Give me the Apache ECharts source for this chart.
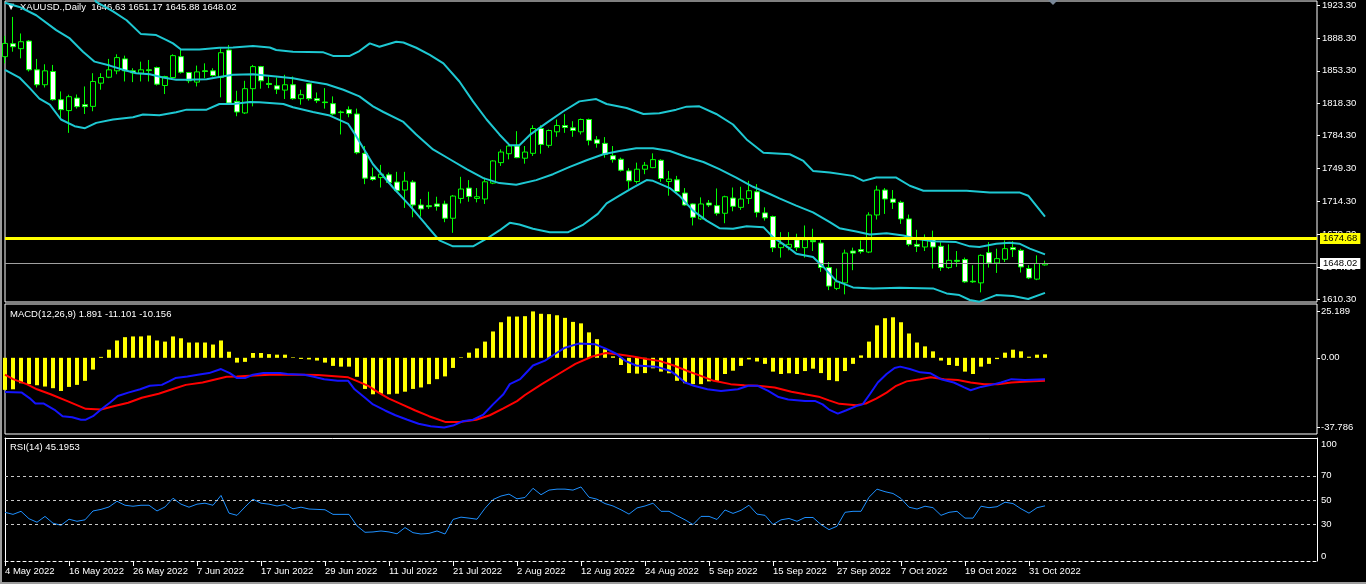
<!DOCTYPE html>
<html>
<head>
<meta charset="utf-8">
<script src="https://cdn.jsdelivr.net/npm/echarts@6/dist/echarts.min.js"></script>
<style>
html,body{margin:0;padding:0;background:#000;}
#c{width:1366px;height:584px;}
</style>
</head>
<body>
<div id="c"></div>
<script>
// ---------- DATA ----------
const symbolTitle = 'XAUUSD.,Daily  1646.63 1651.17 1645.88 1648.02';
const macdTitle = 'MACD(12,26,9) 1.891 -11.101 -10.156';
const rsiTitle = 'RSI(14) 45.1953';
const dateLabels = ['4 May 2022','16 May 2022','26 May 2022','7 Jun 2022','17 Jun 2022','29 Jun 2022','11 Jul 2022','21 Jul 2022','2 Aug 2022','12 Aug 2022','24 Aug 2022','5 Sep 2022','15 Sep 2022','27 Sep 2022','7 Oct 2022','19 Oct 2022','31 Oct 2022'];
const labelStep = 8;
const slotCount = 165; // bars + empty chart shift space
const priceTicks = [1923.30,1888.30,1853.30,1818.30,1784.30,1749.30,1714.30,1679.30,1644.30,1610.30];
const macdTicks = [25.189, 0, -37.786];
const rsiTicks = [0, 30, 50, 70, 100];
const rsiLevels = [30, 50, 70];
const levelPrice = 1674.68;
const bidPrice = 1648.02;

// daily candles: [open, high, low, close]
const candles = [
[1868.3,1890.5,1861.2,1882.4],[1882.1,1910.6,1873.6,1878.9],[1876.8,1893.0,1866.5,1884.2],[1884.9,1886.0,1852.5,1854.3],[1854.3,1865.9,1835.5,1838.4],
[1838.4,1860.2,1835.5,1853.2],[1852.5,1859.5,1821.5,1822.5],[1822.5,1831.3,1801.4,1811.9],[1810.9,1827.8,1787.2,1825.7],[1824.2,1828.0,1813.0,1815.1],
[1817.2,1836.6,1807.3,1815.1],[1815.4,1850.7,1810.2,1841.9],[1840.1,1850.7,1833.1,1846.1],[1846.4,1865.9,1845.4,1854.3],[1853.2,1870.8,1849.6,1867.3],
[1865.9,1869.4,1841.9,1853.2],[1853.2,1856.0,1841.2,1851.1],[1850.7,1863.0,1841.9,1854.3],[1854.3,1864.8,1841.9,1853.5],[1856.7,1857.7,1837.6,1839.0],
[1837.6,1848.0,1828.5,1847.2],[1846.1,1870.8,1845.4,1869.4],[1868.3,1876.5,1850.3,1851.7],[1851.4,1852.0,1840.1,1842.6],[1841.2,1858.8,1836.6,1852.1],
[1853.2,1861.2,1845.4,1852.5],[1853.2,1856.0,1847.2,1848.2],[1846.1,1877.1,1825.0,1872.5],[1875.4,1880.7,1817.9,1818.9],[1820.7,1832.0,1804.9,1809.4],
[1808.4,1842.6,1807.3,1834.2],[1834.2,1859.5,1815.4,1857.7],[1857.7,1858.5,1834.2,1842.6],[1839.8,1847.2,1834.8,1838.7],[1837.3,1846.1,1828.5,1833.7],
[1832.7,1849.0,1823.2,1838.4],[1838.4,1847.2,1822.5,1823.6],[1823.6,1833.1,1817.2,1827.8],[1839.4,1840.1,1821.5,1823.6],[1823.6,1830.2,1818.9,1821.5],
[1820.0,1834.8,1813.0,1819.4],[1818.3,1826.0,1805.9,1807.3],[1809.4,1810.9,1785.5,1808.8],[1811.9,1815.4,1803.8,1807.7],[1807.3,1813.0,1764.4,1766.1],
[1765.4,1773.2,1732.6,1739.0],[1740.4,1750.2,1736.1,1737.5],[1739.6,1753.1,1729.0,1743.2],[1742.5,1744.9,1733.3,1734.3],[1734.8,1745.7,1723.8,1725.6],
[1726.3,1745.7,1707.3,1735.8],[1734.8,1736.9,1697.3,1710.4],[1710.4,1716.8,1698.1,1706.2],[1709.7,1724.5,1706.2,1708.6],[1711.5,1719.2,1704.4,1709.0],
[1711.5,1715.0,1692.1,1696.3],[1696.3,1721.0,1680.8,1719.9],[1717.4,1740.4,1712.1,1727.4],[1728.4,1736.9,1713.9,1719.5],[1717.4,1728.4,1713.2,1719.2],
[1716.8,1739.6,1711.5,1735.1],[1733.7,1758.0,1732.6,1757.3],[1755.5,1769.6,1752.0,1766.8],[1765.0,1776.6,1759.0,1773.2],[1773.2,1789.0,1760.2,1760.8],
[1760.2,1773.2,1754.4,1766.8],[1765.4,1795.3,1762.6,1791.8],[1791.8,1795.3,1765.0,1774.9],[1773.9,1790.8,1771.4,1789.7],[1788.3,1801.4,1783.0,1795.0],
[1795.0,1807.1,1787.2,1792.9],[1792.5,1799.6,1783.0,1789.7],[1788.3,1802.4,1785.5,1801.4],[1801.4,1802.4,1773.9,1779.2],[1779.8,1783.7,1771.4,1776.0],
[1776.0,1782.7,1760.8,1764.4],[1762.9,1773.2,1755.5,1758.7],[1759.1,1760.8,1746.0,1747.4],[1746.7,1749.6,1727.4,1736.1],[1735.4,1755.5,1733.3,1748.5],
[1748.5,1756.2,1743.2,1752.7],[1750.2,1765.4,1749.6,1758.7],[1758.0,1759.1,1735.1,1738.6],[1735.4,1746.7,1720.3,1737.9],[1737.2,1741.4,1722.1,1724.8],
[1723.1,1728.4,1709.7,1710.4],[1711.5,1712.1,1688.6,1697.3],[1695.6,1718.5,1694.5,1711.5],[1712.5,1715.7,1708.2,1710.4],[1709.7,1728.0,1699.1,1701.6],
[1701.6,1720.3,1691.0,1719.2],[1717.8,1729.0,1703.7,1709.0],[1707.9,1729.8,1705.2,1716.8],[1717.4,1736.1,1711.5,1725.6],[1724.5,1732.6,1697.3,1702.6],
[1702.0,1707.9,1693.8,1696.7],[1698.1,1699.1,1660.3,1665.0],[1665.0,1681.5,1654.4,1669.2],[1665.3,1681.5,1662.1,1668.5],[1673.4,1679.8,1661.4,1665.0],
[1665.0,1688.6,1654.4,1673.4],[1672.7,1685.1,1661.4,1671.3],[1669.9,1676.2,1639.2,1643.8],[1643.8,1649.7,1619.8,1624.1],[1621.6,1642.8,1619.8,1628.6],
[1627.5,1662.9,1615.3,1659.2],[1661.4,1665.0,1641.0,1659.2],[1662.9,1672.7,1658.6,1660.8],[1660.3,1702.6,1659.2,1699.8],[1699.8,1730.9,1694.9,1726.3],
[1726.3,1728.4,1700.9,1716.8],[1716.8,1726.3,1706.2,1713.2],[1713.2,1715.0,1690.3,1695.6],[1695.6,1700.2,1666.4,1668.5],[1668.5,1684.0,1660.3,1666.4],
[1665.7,1679.1,1661.4,1673.4],[1673.4,1683.1,1642.8,1665.7],[1666.4,1670.9,1640.3,1643.8],[1643.8,1668.5,1642.5,1651.5],[1651.5,1661.4,1644.5,1650.5],
[1652.3,1654.4,1627.5,1628.6],[1629.3,1646.3,1627.5,1628.6],[1627.5,1657.9,1617.4,1656.8],[1659.7,1670.9,1643.8,1648.7],[1648.7,1663.9,1638.1,1653.3],
[1652.6,1672.7,1649.7,1663.9],[1665.0,1671.9,1655.0,1662.9],[1662.1,1663.9,1638.5,1644.5],[1642.8,1646.3,1631.5,1632.8],[1631.5,1656.8,1630.4,1648.1],
[1646.63,1651.17,1645.88,1648.02]
];

// Bollinger bands: [bar index, price]
const bbUpper = [[0,1997],[2,1996],[4,1997],[6,1986],[8,1979],[10,1952],[11.4,1926.5],[13.5,1916.6],[15.2,1907.1],[17,1892.3],[18.9,1891.3],[20.2,1886.0],[21,1882.4],[22,1876.0],[24.3,1876.0],[26.8,1877.8],[28.5,1878.1],[31,1879.6],[33.1,1878.1],[33.9,1875.4],[36,1873.6],[39.8,1872.9],[41,1869.1],[43.1,1869.1],[44.3,1874.3],[45.6,1882.4],[46.8,1878.9],[48.9,1884.2],[49.8,1883.4],[51.4,1877.8],[53.1,1870.1],[54.8,1861.2],[56.8,1841.9],[58.5,1820.7],[60.2,1801.4],[61.8,1785.5],[63.1,1773.9],[64.3,1774.0],[65.6,1785.0],[67.7,1797.8],[69.8,1810.2],[71.8,1820.7],[73.9,1823.2],[75.2,1817.9],[77.7,1813.6],[79.8,1807.3],[81.8,1808.0],[83.9,1811.9],[85.2,1815.1],[86.8,1815.4],[88.9,1807.3],[91,1796.1],[92.7,1780.2],[94.8,1766.1],[98.1,1764.4],[99.8,1757.3],[101,1746.7],[103.1,1744.9],[106,1741.4],[107.3,1736.1],[108.9,1739.6],[111.4,1739.6],[113.1,1730.9],[114.8,1725.6],[120.2,1725.6],[123.1,1723.8],[126.8,1723.8],[127.9,1720.3],[128.9,1709.7],[130,1698.1]];
const bbMiddle = [[0,1925.7],[1.8,1921.2],[3.9,1912.4],[6.4,1896.5],[8.1,1887.7],[9.75,1873.6],[11.2,1863.0],[13.1,1858.8],[14.75,1854.3],[16.4,1850.7],[18.1,1849.6],[19.75,1846.1],[21.4,1843.7],[22.7,1843.7],[25.2,1844.3],[26.4,1846.1],[28.5,1849.0],[31,1849.6],[33.9,1847.2],[36,1845.4],[38.1,1841.9],[40.2,1839.0],[42.3,1833.1],[44.3,1826.0],[46,1815.4],[47.3,1809.4],[49.8,1798.8],[51.4,1785.5],[53.5,1769.6],[55.6,1759.1],[57.7,1748.5],[59.8,1739.0],[61.8,1733.7],[63.9,1731.9],[66.4,1736.9],[68.5,1743.2],[70.6,1751.0],[72.7,1758.0],[74.8,1764.4],[76.8,1767.9],[78.9,1770.7],[81,1770.7],[83.1,1767.9],[85.2,1761.5],[87.3,1756.2],[89.3,1748.5],[91.4,1739.6],[93.5,1729.8],[95.6,1722.1],[96.8,1717.4],[98.9,1709.7],[101,1702.6],[103.1,1692.1],[104.3,1685.7],[106.4,1682.2],[108.1,1679.1],[110.2,1680.4],[112.3,1677.9],[113.9,1674.4],[116,1671.9],[118.9,1670.9],[120.6,1666.4],[121.8,1665.7],[123.9,1669.2],[125.6,1670.3],[126.8,1669.2],[128.1,1663.9],[130,1657.9]];
const bbLower = [[0,1854.3],[1.8,1846.1],[3.1,1834.8],[4.3,1823.6],[5.6,1817.2],[7,1801.4],[8.7,1794.3],[10,1792.2],[11.4,1797.8],[13.5,1801.4],[16,1803.8],[17.25,1806.7],[19.3,1805.9],[21.4,1809.1],[22.7,1811.9],[25.2,1811.9],[26.8,1817.9],[28.5,1817.9],[30.6,1820.0],[31.8,1819.7],[34.8,1817.9],[36,1814.4],[38.5,1809.4],[40.6,1805.6],[42.9,1796.7],[43.9,1783.7],[46,1753.8],[48.5,1729.0],[50.6,1709.7],[52.7,1688.6],[54.3,1672.7],[56,1666.4],[58.5,1666.4],[60.2,1674.5],[61.8,1683.3],[63.1,1691.4],[64.3,1689.6],[66,1685.1],[68.1,1681.5],[70.4,1681.5],[72.3,1689.6],[74.1,1701.0],[75.2,1712.1],[76.8,1720.3],[78.5,1729.0],[80.2,1736.9],[81,1736.1],[83.1,1728.4],[84.3,1720.3],[86,1704.4],[87.7,1693.8],[89.3,1685.7],[91,1685.1],[92.7,1687.8],[94.8,1686.8],[96,1676.2],[98.1,1663.9],[98.9,1658.6],[101,1655.1],[102.3,1644.5],[103.9,1629.7],[106,1622.7],[108.5,1621.6],[111.8,1622.3],[116,1621.6],[117.7,1616.3],[119.3,1614.5],[120.6,1609.3],[121.8,1607.5],[123.9,1614.5],[126,1613.5],[127.9,1610.3],[130,1616.9]];

// MACD histogram per bar
const macdHist = [-17.4,-17.1,-13.8,-14.3,-14.9,-15.6,-16.5,-18.0,-15.8,-14.7,
-12.5,-6.4,0.5,4.4,9.4,11.2,11.6,11.6,12.1,9.4,
8.8,11.6,10.6,8.3,8.3,8.3,7.2,9.4,3.3,-2.6,
-2.2,2.6,2.6,2.0,1.7,1.7,0.3,-0.6,-0.9,-1.5,
-2.6,-4.4,-4.8,-4.8,-10.3,-16.9,-19.8,-19.5,-19.8,-19.5,
-18.4,-16.9,-16.1,-14.3,-11.6,-10.1,-5.5,0.3,2.8,5.1,
8.8,14.3,19.3,22.4,22.4,22.6,25.19,23.9,23.7,23.1,
21.7,19.5,18.7,13.8,10.1,4.6,0.8,-3.9,-8.3,-8.6,
-8.3,-5.7,-7.5,-8.4,-12.5,-13.8,-14.3,-14.3,-12.8,-12.5,
-8.8,-7.0,-4.4,-0.9,-2.0,-3.3,-7.5,-8.8,-8.4,-8.8,
-7.2,-5.9,-8.3,-12.1,-12.7,-7.2,-3.3,1.3,8.8,17.6,
21.5,22.0,19.3,13.2,8.3,6.2,3.5,-1.5,-3.9,-4.4,
-7.5,-8.8,-4.8,-3.3,-0.7,2.8,4.4,3.5,0.6,1.7,
1.891];
// MACD lines: [bar index, value]
const macdMain = [[0,-18.5],[2.1,-18.9],[3.1,-22.0],[3.8,-24.8],[4.8,-24.8],[6.3,-28.6],[7.2,-31.7],[8.4,-32.3],[9.5,-33.6],[10.1,-33.6],[11,-31.7],[12,-28.1],[13.1,-24.4],[14.1,-20.7],[15.4,-18.9],[16.9,-17.1],[18.1,-15.2],[19.6,-14.7],[20.5,-12.8],[21.3,-11.0],[22.8,-10.1],[24.1,-9.2],[25.5,-8.3],[27,-6.1],[28.1,-8.3],[29,-11.0],[30,-11.0],[31,-9.2],[32.3,-8.3],[34.4,-8.3],[35.3,-8.8],[37.4,-9.2],[38.6,-10.3],[39.9,-11.6],[41.6,-12.5],[42.9,-12.5],[43.7,-17.1],[45,-21.7],[46,-25.3],[47.5,-28.6],[48.8,-31.2],[50.3,-33.6],[51.7,-35.8],[53.2,-37.2],[54.9,-37.8],[56,-36.8],[57.2,-34.5],[58.5,-33.6],[59.8,-30.8],[61,-25.3],[62.3,-19.8],[63.1,-14.3],[64.4,-11.6],[65,-8.8],[66,-4.2],[67.5,-1.5],[68.8,2.2],[70,5.5],[71.7,7.7],[73.8,7.3],[75.1,5.0],[76.4,2.2],[77.6,-1.8],[78.9,-4.2],[81.4,-4.8],[83.1,-7.0],[84,-9.7],[85,-13.4],[86.1,-15.2],[87.8,-17.1],[89.5,-18.0],[91.6,-17.1],[92.9,-15.2],[94.1,-15.2],[95.4,-18.0],[96.7,-21.3],[97.9,-22.6],[100,-23.5],[101.3,-23.5],[102.2,-25.3],[103,-28.1],[104.1,-30.3],[105.1,-28.6],[106.4,-26.2],[107.2,-25.3],[108.1,-19.8],[109.1,-13.4],[110.2,-8.8],[111.2,-5.5],[111.9,-4.8],[113.1,-6.1],[114.4,-7.9],[115.7,-8.4],[117,-11.6],[118.6,-13.4],[119.9,-16.1],[120.7,-17.6],[122,-15.8],[123.3,-14.7],[124.5,-13.4],[125.8,-11.6],[127.5,-12.1],[130,-11.6]];
const macdSignal = [[0,-9.2],[1,-11.6],[2.7,-14.3],[4,-17.1],[5.7,-19.8],[7.8,-23.5],[10.1,-27.7],[12,-28.1],[13.7,-26.2],[15.4,-24.4],[17.1,-21.7],[19.2,-19.5],[20.9,-17.1],[22.6,-14.7],[24.7,-13.4],[26.4,-11.6],[27.7,-10.3],[29,-10.1],[30.6,-9.7],[33.1,-9.2],[35.3,-9.2],[37.4,-9.2],[39.1,-9.4],[40.8,-9.9],[42.9,-10.6],[44.1,-12.8],[45.4,-15.2],[46.7,-18.9],[48,-22.2],[49.6,-25.3],[51.3,-28.6],[53,-31.7],[55.1,-34.9],[56.8,-34.9],[58.9,-33.6],[60.6,-31.2],[62.3,-27.5],[64,-23.5],[65,-20.2],[67.1,-14.3],[69.2,-8.8],[71.3,-3.3],[73.4,0.7],[75.1,2.6],[76.8,1.8],[78.5,0.7],[80.2,-0.6],[81.9,-1.8],[83.6,-4.2],[85.2,-7.0],[86.9,-9.7],[88.6,-12.5],[90.7,-14.3],[92.4,-14.9],[94.1,-15.2],[96.2,-16.1],[98.3,-18.4],[100,-19.8],[101.7,-21.1],[103,-23.1],[104.3,-25.0],[106.4,-25.7],[107.6,-24.8],[108.9,-22.2],[110.2,-18.9],[111.4,-15.2],[112.7,-12.8],[114.4,-11.6],[115.7,-10.6],[117.4,-11.6],[119.1,-12.1],[120.7,-13.4],[122.4,-14.3],[124.1,-14.3],[125.8,-13.4],[127.9,-12.8],[130,-12.5]];

// RSI(14) per bar
const rsi = [39.9,38.2,40.7,34.6,31.7,36.5,30.9,29.2,34.2,32.5,
33.7,41.0,42.3,44.3,49.0,45.7,44.9,45.7,45.7,41.0,
44.3,51.5,46.6,44.1,46.6,47.4,45.7,53.8,39.2,37.4,
44.3,50.7,47.4,46.6,45.1,46.3,42.8,44.1,42.6,42.3,
42.0,38.2,38.2,38.2,28.7,23.4,23.7,24.5,23.7,22.2,
27.3,23.1,22.0,22.5,24.5,22.0,34.0,35.9,35.1,34.2,
43.2,50.4,53.3,54.9,51.0,52.1,59.7,54.4,58.2,59.0,
59.0,58.2,60.8,52.3,50.7,47.1,45.1,42.0,38.4,43.5,
45.1,47.4,40.7,40.7,37.1,33.7,29.8,36.5,36.5,34.0,
41.8,39.0,41.5,45.7,38.4,37.4,29.8,33.7,34.8,32.5,
35.6,35.6,29.8,25.6,28.4,39.9,40.7,40.7,52.3,59.0,
56.9,55.4,51.3,44.1,42.6,44.9,43.7,37.4,39.9,40.7,
35.1,35.1,44.9,43.7,44.5,48.2,47.1,42.8,39.2,43.7,
45.2];

// ---------- CHART ----------
const FONT = 'Liberation Sans';
const FS = 9.5;
const cats = Array.from({length: slotCount}, (_, i) => String(i));
const lastSlot = slotCount - 1;
const showDate = (i) => i % labelStep === 0 && (i / labelStep) < dateLabels.length;
const bandColor = '#1ec8d2';

const chart = echarts.init(document.getElementById('c'), null, {renderer: 'canvas'});
const hiddenCat = (g) => ({type: 'category', gridIndex: g, data: cats, boundaryGap: false, show: false});
const hiddenVal = (g) => ({type: 'value', gridIndex: g, min: 0, max: lastSlot, show: false, axisLine: {onZero: false}});
const bandSeries = (data) => ({
  type: 'line', xAxisIndex: 1, yAxisIndex: 0, data: data, symbol: 'none', silent: true,
  lineStyle: {color: bandColor, width: 2}, z: 4, animation: false
});
const rightTicks = (vals) => ({show: true, inside: false, customValues: vals, length: 3, lineStyle: {color: '#ffffff', width: 1}});

chart.setOption({
  backgroundColor: '#000000',
  animation: false,
  grid: [
    {left: 5, top: -1, width: 1312, height: 303, show: true, borderColor: '#ffffff', borderWidth: 1, backgroundColor: 'transparent'},
    {left: 5, top: 304, width: 1312, height: 130, show: true, borderColor: '#ffffff', borderWidth: 1, backgroundColor: 'transparent'},
    {left: 5, top: 438, width: 1312, height: 123, show: false}
  ],
  xAxis: [
    hiddenCat(0), hiddenVal(0), hiddenCat(1), hiddenVal(1),
    {type: 'category', gridIndex: 2, data: cats, boundaryGap: false, position: 'bottom',
     axisLine: {show: true, onZero: false, lineStyle: {color: '#ffffff', type: [3, 3], width: 1}},
     axisTick: {show: true, interval: showDate, length: 5, lineStyle: {color: '#ffffff'}},
     axisLabel: {show: true, interval: showDate, formatter: (v, i) => dateLabels[i / labelStep] || '',
       color: '#ffffff', fontSize: FS, fontFamily: FONT, align: 'left', margin: 5},
     splitLine: {show: false}},
    {type: 'category', gridIndex: 2, data: cats, boundaryGap: false, position: 'top',
     axisLine: {show: true, onZero: false, lineStyle: {color: '#ffffff', width: 1}},
     axisTick: {show: false}, axisLabel: {show: false}, splitLine: {show: false}}
  ],
  yAxis: [
    {type: 'value', gridIndex: 0, position: 'right', min: 1607.14, max: 1927.53,
     axisLine: {show: false, onZero: false}, splitLine: {show: false}, minorTick: {show: false},
     axisTick: rightTicks(priceTicks),
     axisLabel: {show: true, customValues: priceTicks, formatter: v => v.toFixed(2), color: '#ffffff', fontSize: FS, fontFamily: FONT, margin: 5}},
    {type: 'value', gridIndex: 1, position: 'right', min: -41.37, max: 29.21,
     axisLine: {show: false, onZero: false}, splitLine: {show: false},
     axisTick: rightTicks(macdTicks),
     axisLabel: {show: true, customValues: macdTicks, formatter: v => (v === 0 ? '0.00' : String(v)), color: '#ffffff', fontSize: FS, fontFamily: FONT, margin: 4}},
    {type: 'value', gridIndex: 2, position: 'right', min: -0.25, max: 101.15,
     axisLine: {show: true, onZero: false, lineStyle: {color: '#ffffff', width: 1}}, splitLine: {show: false},
     axisTick: {show: false},
     axisLabel: {show: true, customValues: rsiTicks, margin: 4,
       formatter: v => (v === 100 ? '{dn|100}' : (v === 0 ? '{up|0}' : String(v))),
       color: '#ffffff', fontSize: FS, fontFamily: FONT,
       rich: {dn: {padding: [9, 0, 0, 0], color: '#ffffff', fontSize: FS, fontFamily: FONT},
              up: {padding: [0, 0, 9, 0], color: '#ffffff', fontSize: FS, fontFamily: FONT}}}},
    {type: 'value', gridIndex: 2, position: 'left', min: -0.25, max: 101.15,
     axisLine: {show: true, onZero: false, lineStyle: {color: '#ffffff', width: 1}},
     axisTick: {show: false}, axisLabel: {show: false}, splitLine: {show: false}}
  ],
  series: [
    {type: 'candlestick', xAxisIndex: 0, yAxisIndex: 0, barWidth: 5, silent: true, z: 3,
     data: candles.map(r => [r[0], r[3], r[2], r[1]]),
     itemStyle: {color: '#000000', color0: '#ffffff', borderColor: '#00ff00', borderColor0: '#00ff00', borderWidth: 1}},
    bandSeries(bbUpper), bandSeries(bbMiddle), bandSeries(bbLower),
    {type: 'line', xAxisIndex: 0, yAxisIndex: 0, data: [], symbol: 'none', silent: true,
     markLine: {silent: true, symbol: 'none', animation: false,
       data: [
         {yAxis: bidPrice, lineStyle: {color: '#a0a0a0', width: 1, type: 'solid'},
          label: {show: true, position: 'end', distance: 3, formatter: p => Number(p.value).toFixed(2),
            color: '#000000', backgroundColor: '#ffffff', padding: [1, 3, 0, 3], fontSize: FS, fontFamily: FONT}},
         {yAxis: levelPrice, lineStyle: {color: '#ffff00', width: 3, type: 'solid'},
          label: {show: true, position: 'end', distance: 3, formatter: p => Number(p.value).toFixed(2),
            color: '#000000', backgroundColor: '#ffff00', padding: [1, 3, 0, 3], fontSize: FS, fontFamily: FONT}}
       ]}},
    {type: 'bar', xAxisIndex: 2, yAxisIndex: 1, data: macdHist, barWidth: 4, silent: true,
     itemStyle: {color: '#ffff00'}},
    {type: 'line', xAxisIndex: 3, yAxisIndex: 1, data: macdMain, symbol: 'none', silent: true,
     lineStyle: {color: '#1414ff', width: 2}, z: 4},
    {type: 'line', xAxisIndex: 3, yAxisIndex: 1, data: macdSignal, symbol: 'none', silent: true,
     lineStyle: {color: '#ff0000', width: 2}, z: 3},
    {type: 'line', xAxisIndex: 4, yAxisIndex: 2, data: rsi, symbol: 'none', silent: true,
     lineStyle: {color: '#1e90ff', width: 1}, z: 4,
     markLine: {silent: true, symbol: 'none', label: {show: false},
       lineStyle: {color: '#c8c8c8', type: [3, 3], width: 1},
       data: rsiLevels.map(v => ({yAxis: v}))}}
  ],
  graphic: [
    {type: 'rect', shape: {x: 0, y: 0, width: 2, height: 584}, style: {fill: '#9c9c9c'}, silent: true},
    {type: 'rect', shape: {x: 0, y: 582, width: 1366, height: 2}, style: {fill: '#9c9c9c'}, silent: true},
    {type: 'text', left: 8, top: 3, style: {text: '\u25BC', fill: '#ffffff', fontSize: 8, fontFamily: 'DejaVu Sans'}},
    {type: 'text', left: 20, top: 2, style: {text: symbolTitle, fill: '#ffffff', fontSize: FS, fontFamily: FONT}},
    {type: 'text', left: 10, top: 309, style: {text: macdTitle, fill: '#ffffff', fontSize: FS, fontFamily: FONT}},
    {type: 'text', left: 10, top: 442, style: {text: rsiTitle, fill: '#ffffff', fontSize: FS, fontFamily: FONT}},
    {type: 'polygon', shape: {points: [[1048, 0], [1058, 0], [1053, 5]]}, style: {fill: '#7a8898'}, silent: true}
  ]
});
</script>
</body>
</html>
